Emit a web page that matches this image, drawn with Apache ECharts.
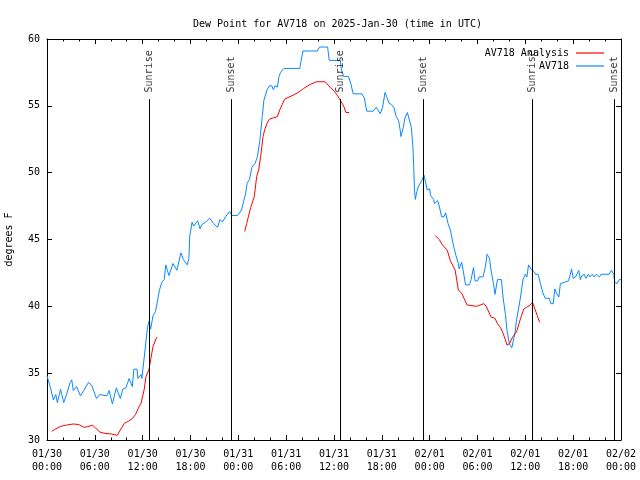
<!DOCTYPE html>
<html><head><meta charset="utf-8">
<script src="https://cdn.jsdelivr.net/npm/echarts@6/dist/echarts.min.js"></script>
<style>html,body{margin:0;padding:0;background:#fff}#c{width:640px;height:480px}</style>
</head><body><div id="c"></div>
<script>
// hours since 2025-01-30 00:00 UTC
var blueHours = [0.0,0.4,0.8,1.1,1.3,1.7,2.1,2.5,2.9,3.1,3.3,3.7,4.2,4.6,5.2,5.6,6.2,6.6,7.5,7.8,8.2,8.7,9.2,9.5,9.9,10.3,10.7,10.9,11.3,11.4,11.8,11.9,12.2,12.6,12.8,13.0,13.3,13.6,13.8,14.1,14.4,14.7,14.9,15.1,15.3,15.8,16.3,16.8,17.1,17.6,17.8,17.9,18.2,18.4,18.9,19.2,19.4,19.9,20.4,20.9,21.4,21.7,22.0,22.4,22.9,23.2,23.9,24.4,24.6,24.9,25.1,25.4,25.7,26.1,26.4,26.7,27.0,27.2,27.6,27.9,28.2,28.4,28.6,28.9,29.1,29.3,29.7,31.7,32.1,32.3,33.2,33.4,33.9,34.2,35.2,35.4,36.8,36.9,37.2,37.8,38.1,38.4,39.5,39.8,40.1,40.9,41.3,41.5,41.8,42.1,42.4,42.6,42.9,43.2,43.5,43.8,44.1,44.3,44.4,44.7,44.9,45.2,45.4,45.7,45.9,46.0,46.1,46.2,46.4,46.6,47.0,47.3,47.5,47.7,48.0,48.1,48.5,48.6,49.0,49.2,49.5,49.8,50.0,50.3,50.6,51.0,51.3,51.6,51.7,52.0,52.2,52.5,53.0,53.2,53.5,53.7,54.0,54.2,54.7,55.0,55.2,55.5,55.7,56.0,56.2,56.5,57.0,57.2,57.5,57.7,58.0,58.3,58.5,58.7,58.9,59.2,59.4,59.7,60.0,60.2,60.4,60.7,61.1,61.3,61.6,61.9,62.2,62.5,63.0,63.2,63.5,63.7,63.9,64.2,64.4,64.9,65.4,65.6,65.8,66.0,66.3,66.5,66.7,66.9,67.1,67.4,67.6,67.9,68.1,68.4,68.6,68.9,69.1,69.3,69.5,70.5,70.8,71.1,71.2,71.5,71.8,72.0];
var blueValues = [34.8,34.0,33.0,33.4,32.8,33.8,32.8,33.5,34.3,34.5,33.7,34.0,33.3,33.7,34.3,34.1,33.1,33.4,33.3,33.7,32.7,33.9,33.1,33.8,33.9,34.6,34.0,35.3,35.3,34.6,34.9,34.6,36.2,38.4,38.9,38.3,39.3,39.6,40.2,41.2,41.8,42.0,43.1,42.7,42.3,43.2,42.7,44.0,43.5,43.1,43.6,45.2,46.3,46.0,46.4,45.8,46.1,46.3,46.6,46.2,45.9,46.5,46.3,46.7,47.1,46.8,46.8,47.2,47.7,48.4,49.2,49.5,50.4,50.7,51.2,52.4,54.2,55.4,56.2,56.5,56.5,56.2,56.5,56.4,57.2,57.5,57.8,57.8,59.1,59.2,59.1,59.2,59.1,59.4,59.4,58.4,58.4,57.8,57.2,57.2,56.7,55.9,55.9,55.6,54.6,54.6,54.9,54.7,54.4,54.9,56.0,55.7,55.2,55.1,54.9,54.2,53.9,53.2,52.7,53.4,54.1,54.5,54.4,53.4,51.9,50.4,48.7,48.0,48.6,49.0,49.4,49.8,49.7,48.7,48.8,48.3,48.0,47.7,47.9,47.5,46.7,46.7,47.0,46.2,45.7,44.5,43.8,43.2,42.8,43.3,42.7,41.6,41.6,42.0,42.9,41.9,41.9,42.2,42.2,43.0,43.9,43.6,42.7,41.7,40.9,42.0,42.0,40.7,39.4,38.2,37.2,36.9,36.9,38.0,39.0,40.0,40.7,42.0,42.4,42.2,43.1,42.8,42.6,42.4,42.4,41.7,41.0,40.6,40.6,40.2,40.2,41.3,41.0,40.7,41.7,41.8,41.9,42.3,42.8,42.1,42.2,42.1,42.7,42.0,42.3,42.4,42.1,42.4,42.2,42.4,42.2,42.4,42.4,42.2,42.4,42.4,42.7,42.4,41.8,41.7,42.0,42.0];

// null = gap in the analysis series
var redHours = [0.6,1.0,1.6,2.3,3.3,4.0,4.6,5.1,5.7,6.1,6.6,7.2,8.1,8.8,9.2,9.7,10.2,10.7,11.1,11.5,11.8,12.2,12.4,12.8,13.0,13.3,13.7,13.8,
  19.0,
  24.8,25.05,25.55,26.0,26.3,26.55,26.8,27.1,27.3,27.6,27.9,28.9,29.2,29.5,29.8,30.9,31.5,32.2,33.0,33.8,34.9,35.5,36.0,36.4,36.8,37.2,37.5,37.9,
  43.0,
  48.7,49.2,49.6,50.2,50.6,51.2,51.6,52.0,52.7,53.9,54.8,55.1,55.7,56.2,56.5,56.9,57.2,57.5,57.7,58.0,58.4,58.9,59.3,59.8,60.1,60.6,60.9,61.2,61.5,61.8];
var redValues = [30.65,30.8,31.0,31.1,31.2,31.15,30.95,31.0,31.1,30.9,30.6,30.5,30.45,30.35,30.75,31.25,31.4,31.6,31.9,32.45,32.75,33.8,34.7,35.3,36.0,37.0,37.6,37.7,
  null,
  45.6,46.2,47.4,48.2,49.7,50.2,51.2,52.7,53.2,53.7,54.0,54.2,54.7,55.1,55.5,55.8,56.0,56.3,56.6,56.8,56.8,56.4,56.1,55.8,55.4,55.0,54.5,54.5,
  null,
  45.3,45.0,44.6,44.2,43.4,42.7,41.2,41.0,40.1,40.0,40.2,40.0,39.2,39.1,38.7,38.4,38.0,37.5,37.1,37.2,37.7,38.1,38.9,39.8,39.9,40.1,40.3,39.8,39.3,38.8];

var sunHours = [12.83, 23.12, 36.75, 47.2, 60.92, 71.2];
var sunLabels = ['Sunrise','Sunset','Sunrise','Sunset','Sunrise','Sunset'];

var xTickDates = ['01/30','01/30','01/30','01/30','01/31','01/31','01/31','01/31','02/01','02/01','02/01','02/01','02/02'];
var xTickTimes = ['00:00','06:00','12:00','18:00','00:00','06:00','12:00','18:00','00:00','06:00','12:00','18:00','00:00'];

var FONT = 'DejaVu Sans Mono';
var RED = '#ff0000', BLUE = '#0a88ff';
function pairs(h, v){ return h.map(function(x,i){ return [x, v[i] == null ? '-' : v[i]]; }); }

var chart = echarts.init(document.getElementById('c'), null, {renderer:'canvas'});
var axisBase = {
  type:'value', min:0, max:72, interval:6,
  axisLine:{show:true, onZero:false, lineStyle:{color:'#000', width:1}},
  axisTick:{show:true, inside:true, length:5, lineStyle:{color:'#000'}},
  minorTick:{show:true, splitNumber:3, length:2.5, lineStyle:{color:'#000'}},
  splitLine:{show:false}
};
function legendCfg(name, top){
  return {data:[{name:name, icon:'rect'}], right:31, top:top, align:'right', itemWidth:28, itemHeight:1.2, itemGap:0,
    textStyle:{fontFamily:FONT, fontSize:10, color:'#000', padding:[0,2,0,0]}, selectedMode:false};
}
chart.setOption({
  animation:false,
  backgroundColor:'#fff',
  title:{text:'Dew Point for AV718 on 2025-Jan-30 (time in UTC)', left:188, top:14,
    textStyle:{fontFamily:FONT, fontSize:10, fontWeight:'normal', color:'#000'}},
  grid:{left:47, right:19, top:39, bottom:40, containLabel:false, outerBoundsMode:'none'},
  legend:[ legendCfg('AV718 Analysis', 43), legendCfg('AV718', 56) ],
  xAxis:[
    Object.assign({}, axisBase, {position:'bottom',
      axisLabel:{show:true, margin:8, fontFamily:FONT, fontSize:10, color:'#000', lineHeight:13,
        showMinLabel:true, showMaxLabel:true,
        formatter:function(v){ var i = Math.round(v/6); return xTickDates[i] + '\n' + xTickTimes[i]; }}}),
    Object.assign({}, axisBase, {position:'top', axisLabel:{show:false}})
  ],
  yAxis:[
    {type:'value', min:30, max:60, interval:5, position:'left',
     name:'degrees F', nameLocation:'middle', nameGap:33, nameRotate:90,
     nameTextStyle:{fontFamily:FONT, fontSize:10, color:'#000'},
     axisLine:{show:true, onZero:false, lineStyle:{color:'#000'}},
     axisTick:{show:true, inside:true, length:5, lineStyle:{color:'#000'}},
     axisLabel:{fontFamily:FONT, fontSize:10, color:'#000', margin:7},
     splitLine:{show:false}},
    {type:'value', min:30, max:60, interval:5, position:'right',
     axisLine:{show:true, onZero:false, lineStyle:{color:'#000'}},
     axisTick:{show:true, inside:true, length:5, lineStyle:{color:'#000'}},
     axisLabel:{show:false}, splitLine:{show:false}}
  ],
  series:[
    {name:'AV718 Analysis', type:'line', symbol:'none', connectNulls:false,
     lineStyle:{color:RED, width:1}, itemStyle:{color:RED},
     data:pairs(redHours, redValues), z:3},
    {name:'AV718', type:'line', symbol:'none',
     lineStyle:{color:BLUE, width:1}, itemStyle:{color:BLUE},
     data:pairs(blueHours, blueValues), z:2},
    {name:'sun', type:'scatter', symbolSize:0, silent:true, itemStyle:{color:'#000'},
     data:sunHours.map(function(h,i){ return {value:[h, 56.0], label:{formatter:sunLabels[i]}}; }),
     label:{show:true, position:'inside', rotate:90, align:'left', verticalAlign:'middle',
       fontFamily:FONT, fontSize:10, color:'#000', textBorderWidth:0, textBorderColor:'transparent'},
     markLine:{silent:true, symbol:'none', animation:false,
       lineStyle:{color:'#000', width:1, type:'solid'}, label:{show:false},
       data:sunHours.map(function(h){ return [{coord:[h,30]},{coord:[h,55.5]}]; })}}
  ]
});
</script></body></html>
